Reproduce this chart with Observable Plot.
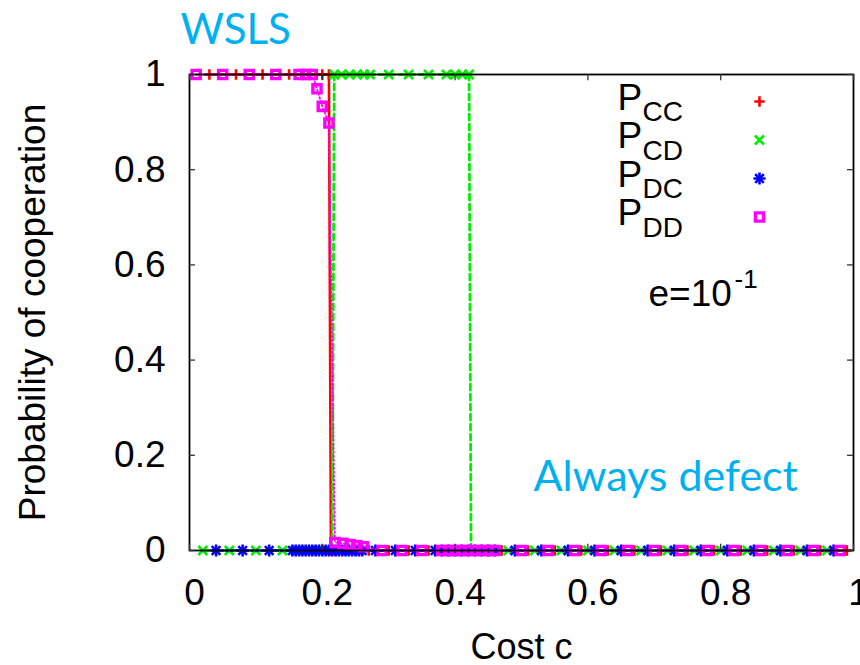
<!DOCTYPE html>
<html>
<head>
<meta charset="utf-8">
<script src="https://cdn.jsdelivr.net/npm/d3@7"></script>
<script src="https://cdn.jsdelivr.net/npm/@observablehq/plot@0.6"></script>
<style>
  html, body { margin: 0; padding: 0; background: #ffffff; }
  #chart svg { display: block; }
</style>
</head>
<body>
<div id="chart"></div>
<script>
// ---------------- data ----------------
const xTicks = [0, 0.2, 0.4, 0.6, 0.8, 1];
const xTickLabels = ["0", "0.2", "0.4", "0.6", "0.8", "1"];
const yTicks = [0, 0.2, 0.4, 0.6, 0.8, 1];
const yTickLabels = ["0", "0.2", "0.4", "0.6", "0.8", "1"];

const seriesNames = ["CC", "CD", "DC", "DD"];
const seriesColors = ["#ff0000", "#00ee00", "#0000ff", "#ff00ff"];

// P_CC
const pccCost = [0.03, 0.07, 0.11, 0.15, 0.17, 0.19, 0.20, 0.21, 0.213, 0.22, 0.23, 0.24, 0.25, 0.26, 0.27, 0.30, 0.33, 0.36, 0.39, 0.40, 0.41, 0.42, 0.43, 0.44, 0.45, 0.46, 0.47, 0.51, 0.55, 0.59, 0.63, 0.67, 0.71, 0.75, 0.79, 0.83, 0.87, 0.91, 0.95, 0.99];
const pccProb = [1, 1, 1, 1, 1, 1, 1, 1, 0, 0, 0, 0, 0, 0, 0, 0, 0, 0, 0, 0, 0, 0, 0, 0, 0, 0, 0, 0, 0, 0, 0, 0, 0, 0, 0, 0, 0, 0, 0, 0];

// P_CD
const pcdCost = [0.02, 0.06, 0.10, 0.14, 0.16, 0.18, 0.20, 0.215, 0.218, 0.229, 0.241, 0.252, 0.263, 0.272, 0.30, 0.33, 0.36, 0.387, 0.40, 0.411, 0.421, 0.424, 0.43, 0.44, 0.45, 0.46, 0.48, 0.52, 0.56, 0.60, 0.64, 0.68, 0.72, 0.76, 0.80, 0.84, 0.88, 0.92, 0.96];
const pcdProb = [0, 0, 0, 0, 0, 0, 0, 0, 1, 1, 1, 1, 1, 1, 1, 1, 1, 1, 1, 1, 1, 0, 0, 0, 0, 0, 0, 0, 0, 0, 0, 0, 0, 0, 0, 0, 0, 0, 0];

// P_DC
const pdcCost = [0.04, 0.08, 0.12, 0.155, 0.16, 0.165, 0.17, 0.175, 0.18, 0.185, 0.19, 0.195, 0.20, 0.205, 0.21, 0.215, 0.22, 0.225, 0.23, 0.235, 0.24, 0.245, 0.25, 0.255, 0.26, 0.28, 0.31, 0.34, 0.37, 0.38, 0.39, 0.40, 0.41, 0.42, 0.43, 0.44, 0.45, 0.46, 0.49, 0.53, 0.57, 0.61, 0.65, 0.69, 0.73, 0.77, 0.81, 0.85, 0.89, 0.93, 0.97];
const pdcProb = [0, 0, 0, 0, 0, 0, 0, 0, 0, 0, 0, 0, 0, 0, 0, 0, 0, 0, 0, 0, 0, 0, 0, 0, 0, 0, 0, 0, 0, 0, 0, 0, 0, 0, 0, 0, 0, 0, 0, 0, 0, 0, 0, 0, 0, 0, 0, 0, 0, 0, 0];

// P_DD
const pddCost = [0.01, 0.05, 0.09, 0.13, 0.165, 0.175, 0.185, 0.192, 0.20, 0.21, 0.219, 0.231, 0.242, 0.252, 0.262, 0.29, 0.32, 0.35, 0.38, 0.39, 0.40, 0.41, 0.42, 0.43, 0.44, 0.45, 0.46, 0.50, 0.54, 0.58, 0.62, 0.66, 0.70, 0.74, 0.78, 0.82, 0.86, 0.90, 0.94, 0.98];
const pddProb = [1, 1, 1, 1, 1, 1, 1, 0.97, 0.933, 0.898, 0.017, 0.015, 0.0125, 0.0105, 0.008, 0, 0, 0, 0, 0, 0, 0, 0, 0, 0, 0, 0, 0, 0, 0, 0, 0, 0, 0, 0, 0, 0, 0, 0, 0];

const titleText = "WSLS";
const xLabel = "Cost c";
const yLabel = "Probability of cooperation";
const regionLabel = "Always defect";
const paramText = "e=10";
const paramExp = "-1";

// ---------------- build ----------------
const zip = (cs, ps) => cs.map((c, i) => ({c, p: ps[i]}));
const pcc = zip(pccCost, pccProb);
const pcd = zip(pcdCost, pcdProb);
const pdc = zip(pdcCost, pdcProb);
const pdd = zip(pddCost, pddProb);

const cyan = "#00b0f0";
const SANS = "'Liberation Sans', Arial, Helvetica, sans-serif";

const PLUS_R = 3.4, TIMES_R = 4.2, STAR_R = 4.0, SQUARE_R = 4.6;
const MARK_W = 2.6;

// legend pieces (P with subscript, plus a marker)
const legendRowBaseline = [35, 73.5, 112, 150.5];
function legendMarks(i) {
  const base = legendRowBaseline[i];
  const col = seriesColors[i];
  const marks = [
    Plot.text(["P"], {frameAnchor: "top-left", text: d => d, dx: 428, dy: base,
      textAnchor: "start", lineAnchor: "bottom", fontSize: 37, fontFamily: SANS, fill: "black"}),
    Plot.text([seriesNames[i]], {frameAnchor: "top-left", text: d => d, dx: 453, dy: base + 11.5,
      textAnchor: "start", lineAnchor: "bottom", fontSize: 28, fontFamily: SANS, fill: "black"})
  ];
  const mdy = base - 8;
  if (i === 0) marks.push(Plot.dot([0], {frameAnchor: "top-left", dx: 570, dy: mdy, symbol: "plus", r: PLUS_R, stroke: col, strokeWidth: MARK_W}));
  if (i === 1) marks.push(Plot.dot([0], {frameAnchor: "top-left", dx: 570, dy: mdy, symbol: "times", r: TIMES_R, stroke: col, strokeWidth: MARK_W}));
  if (i === 2) {
    marks.push(Plot.dot([0], {frameAnchor: "top-left", dx: 570, dy: mdy, symbol: "plus", r: STAR_R, stroke: col, strokeWidth: MARK_W}));
    marks.push(Plot.dot([0], {frameAnchor: "top-left", dx: 570, dy: mdy, symbol: "times", r: STAR_R, stroke: col, strokeWidth: MARK_W}));
  }
  if (i === 3) marks.push(Plot.dot([0], {frameAnchor: "top-left", dx: 570, dy: mdy, symbol: "square", r: SQUARE_R, stroke: col, strokeWidth: 3.4, fill: "none"}));
  return marks;
}

const chart = Plot.plot({
  width: 860,
  height: 665,
  marginTop: 74,
  marginLeft: 189,
  marginRight: 7,
  marginBottom: 115,
  style: {fontFamily: SANS, fontSize: "36px", color: "black", background: "white", overflow: "visible"},
  x: {domain: [0, 1], axis: null},
  y: {domain: [0, 1], axis: null},
  marks: [
    // P_CC
    Plot.line(pcc, {x: "c", y: "p", stroke: seriesColors[0], strokeWidth: 2.6}),
    Plot.dot(pcc, {x: "c", y: "p", symbol: "plus", r: PLUS_R, stroke: seriesColors[0], strokeWidth: MARK_W}),
    // P_CD
    Plot.line(pcd, {x: "c", y: "p", stroke: seriesColors[1], strokeWidth: 2.8, strokeDasharray: "6,4"}),
    Plot.dot(pcd, {x: "c", y: "p", symbol: "times", r: TIMES_R, stroke: seriesColors[1], strokeWidth: MARK_W}),
    // P_DC
    Plot.line(pdc, {x: "c", y: "p", stroke: seriesColors[2], strokeWidth: 2.4, strokeDasharray: "2,3"}),
    Plot.dot(pdc, {x: "c", y: "p", symbol: "plus", r: STAR_R, stroke: seriesColors[2], strokeWidth: MARK_W}),
    Plot.dot(pdc, {x: "c", y: "p", symbol: "times", r: STAR_R, stroke: seriesColors[2], strokeWidth: MARK_W}),
    // P_DD
    Plot.line(pdd, {x: "c", y: "p", stroke: seriesColors[3], strokeWidth: 1.8, strokeDasharray: "1.5,2.5"}),
    Plot.dot(pdd, {x: "c", y: "p", symbol: "square", r: SQUARE_R, stroke: seriesColors[3], strokeWidth: 3.4, fill: "none"}),

    // frame and inward ticks (border drawn in front)
    Plot.frame({stroke: "black", strokeWidth: 1.8}),
    Plot.ruleX(xTicks, {x: d => d, y1: 0, y2: 0.013, stroke: "#333", strokeWidth: 1.3}),
    Plot.ruleX(xTicks, {x: d => d, y1: 1, y2: 0.987, stroke: "#333", strokeWidth: 1.3}),
    Plot.ruleY(yTicks, {y: d => d, x1: 0, x2: 0.009, stroke: "#333", strokeWidth: 1.3}),
    Plot.ruleY(yTicks, {y: d => d, x1: 1, x2: 0.991, stroke: "#333", strokeWidth: 1.3}),

    // tick labels
    Plot.axisX(xTicks, {tickSize: 0, tickPadding: 28, dx: 5, fontSize: 37, label: null,
      tickFormat: d => xTickLabels[xTicks.indexOf(d)]}),
    Plot.axisY(yTicks, {tickSize: 0, tickPadding: 24, fontSize: 37, label: null,
      tickFormat: d => yTickLabels[yTicks.indexOf(d)]}),

    // axis titles
    Plot.text([xLabel], {frameAnchor: "bottom", text: d => d, dy: 108, textAnchor: "middle",
      lineAnchor: "bottom", fontSize: 36, fontFamily: SANS, fill: "black"}),
    Plot.text([yLabel], {frameAnchor: "left", text: d => d, dx: -145, rotate: -90, textAnchor: "middle",
      lineAnchor: "bottom", fontSize: 37, fontFamily: SANS, fill: "black"}),

    // title and annotations
    Plot.text([titleText], {frameAnchor: "top-left", text: d => d, dx: -9, dy: -31, textAnchor: "start",
      lineAnchor: "bottom", fontSize: 42, fontFamily: "Lato, 'Open Sans', sans-serif", fill: cyan}),
    Plot.text([regionLabel], {frameAnchor: "top-left", text: d => d, dx: 344, dy: 416, textAnchor: "start",
      lineAnchor: "bottom", fontSize: 43, fontFamily: "Lato, 'Open Sans', sans-serif", fill: cyan}),
    Plot.text([paramText], {frameAnchor: "top-left", text: d => d, dx: 459, dy: 231, textAnchor: "start",
      lineAnchor: "bottom", fontSize: 37, fontFamily: SANS, fill: "black"}),
    Plot.text([paramExp], {frameAnchor: "top-left", text: d => d, dx: 545, dy: 213, textAnchor: "start",
      lineAnchor: "bottom", fontSize: 26, fontFamily: SANS, fill: "black"}),

    // legend
    ...legendMarks(0), ...legendMarks(1), ...legendMarks(2), ...legendMarks(3)
  ]
});

document.getElementById("chart").appendChild(chart);
</script>
</body>
</html>
